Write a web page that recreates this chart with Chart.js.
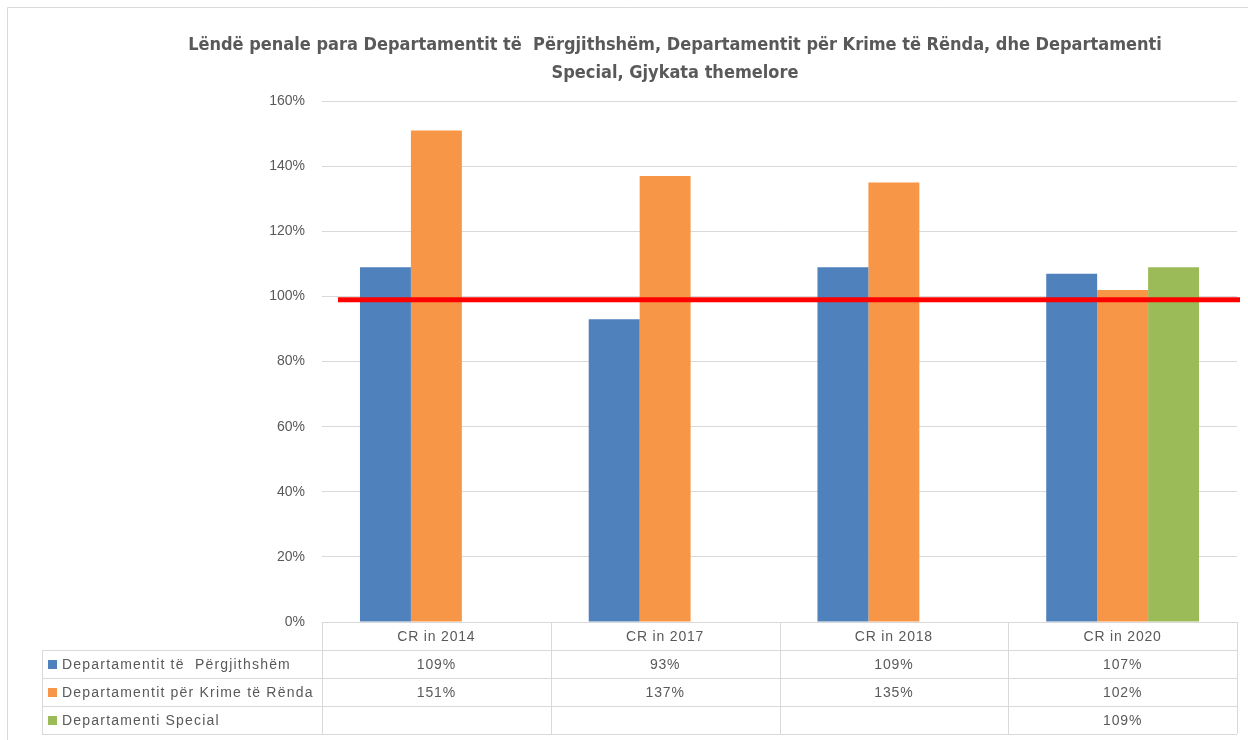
<!DOCTYPE html>
<html>
<head>
<meta charset="utf-8">
<script src="https://cdn.jsdelivr.net/npm/chart.js@4"></script>
<style>
  html, body { margin: 0; padding: 0; background: #fff; }
  #wrap { width: 1248px; height: 740px; }
</style>
</head>
<body>
<div id="wrap"><canvas id="crChart" width="1248" height="740"></canvas></div>
<script>
const categories = ["CR in 2014", "CR in 2017", "CR in 2018", "CR in 2020"];
const seriesNames = ["Departamentit të  Përgjithshëm", "Departamentit për Krime të Rënda", "Departamenti Special"];
const generalDept = [109, 93, 109, 107];
const seriousCrimesDept = [151, 137, 135, 102];
const specialDept = [null, null, null, 109];
const yTicks = [0, 20, 40, 60, 80, 100, 120, 140, 160];
const referenceLine = 99;

const colors = ["#4f81bd", "#f79646", "#9bbb59"];
const textGray = "#595959";
const gridGray = "#d9d9d9";
const font = "'Liberation Sans', Arial, sans-serif";

// outer frame of the chart object (only top and left edges are visible)
const frame = {
    id: "frame",
    beforeDraw(chart) {
        const c = chart.ctx;
        c.save();
        c.strokeStyle = gridGray;
        c.lineWidth = 1;
        c.beginPath();
        c.moveTo(7.5, chart.height);
        c.lineTo(7.5, 7.5);
        c.lineTo(chart.width, 7.5);
        c.stroke();
        c.restore();
    }
};

// table under the plot (Excel-style data table with legend keys)
const dataTable = {
    id: "dataTable",
    afterDraw(chart) {
        const c = chart.ctx;
        const area = chart.chartArea;
        const x = chart.scales.x;
        const catW = area.width / categories.length;
        const rowH = 28;
        const top = area.bottom;
        const left = 42;
        const rows = [generalDept, seriousCrimesDept, specialDept];

        c.save();
        c.strokeStyle = gridGray;
        c.lineWidth = 1;
        c.beginPath();
        c.moveTo(area.left, top + 0.5);
        c.lineTo(area.right, top + 0.5);
        for (let r = 1; r <= rows.length + 1; r++) {
            const y = Math.round(top + r * rowH) + 0.5;
            c.moveTo(left, y);
            c.lineTo(area.right, y);
        }
        for (let i = 0; i <= categories.length; i++) {
            const xx = Math.round(area.left + i * catW) + 0.5;
            c.moveTo(xx, top);
            c.lineTo(xx, top + (rows.length + 1) * rowH);
        }
        c.moveTo(left + 0.5, top + rowH);
        c.lineTo(left + 0.5, top + (rows.length + 1) * rowH);
        c.stroke();

        c.font = "14px " + font;
        c.letterSpacing = "0.8px";
        c.fillStyle = textGray;
        c.textBaseline = "middle";
        c.textAlign = "center";
        categories.forEach((cat, i) => {
            const cx = x.getPixelForValue(i);
            c.fillText(cat, cx, top + rowH / 2 + 1);
            rows.forEach((vals, r) => {
                if (vals[i] != null) c.fillText(vals[i] + "%", cx, top + (r + 1.5) * rowH + 1);
            });
        });
        c.textAlign = "left";
        c.letterSpacing = "1.2px";
        seriesNames.forEach((name, r) => {
            const y = top + (r + 1.5) * rowH;
            c.fillStyle = colors[r];
            c.fillRect(left + 6, y - 4, 9, 9);
            c.fillStyle = textGray;
            c.fillText(name, left + 20, y + 1);
        });
        c.restore();
    }
};

const refLine = {
    id: "refLine",
    afterDatasetsDraw(chart) {
        const c = chart.ctx;
        const area = chart.chartArea;
        const y = chart.scales.y.getPixelForValue(referenceLine);
        c.save();
        c.strokeStyle = "#ff0000";
        c.lineWidth = 5;
        c.beginPath();
        c.moveTo(area.left + 16, y);
        c.lineTo(area.right + 3, y);
        c.stroke();
        c.restore();
    }
};

new Chart(document.getElementById("crChart"), {
    type: "bar",
    data: {
        labels: categories,
        datasets: [
            { label: seriesNames[0], data: generalDept, backgroundColor: colors[0] },
            { label: seriesNames[1], data: seriousCrimesDept, backgroundColor: colors[1] },
            { label: seriesNames[2], data: specialDept, backgroundColor: colors[2] },
        ],
    },
    options: {
        responsive: false,
        animation: false,
        layout: { padding: { left: 113, right: 11, bottom: 118, top: 0 } },
        datasets: { bar: { categoryPercentage: 0.668, barPercentage: 1 } },
        plugins: {
            legend: { display: false },
            tooltip: { enabled: false },
            title: {
                display: true,
                text: ["Lëndë penale para Departamentit të  Përgjithshëm, Departamentit për Krime të Rënda, dhe Departamenti", "Special, Gjykata themelore"],
                color: textGray,
                font: { family: "'Liberation Sans Narrow', 'DejaVu Sans Condensed', sans-serif", size: 18, weight: "bold", lineHeight: 1.56 },
                padding: { top: 31, bottom: 14 },
            },
        },
        scales: {
            x: { display: false },
            y: {
                min: 0,
                max: 160,
                afterBuildTicks(scale) { scale.ticks = yTicks.map(v => ({ value: v })); },
                afterFit(scale) { scale.width = 209; },
                border: { display: false },
                grid: { color: gridGray, drawTicks: false },
                ticks: {
                    padding: 17,
                    color: textGray,
                    font: { family: font, size: 14 },
                    callback: v => v + "%",
                },
            },
        },
    },
    plugins: [frame, dataTable, refLine],
});
</script>
</body>
</html>
